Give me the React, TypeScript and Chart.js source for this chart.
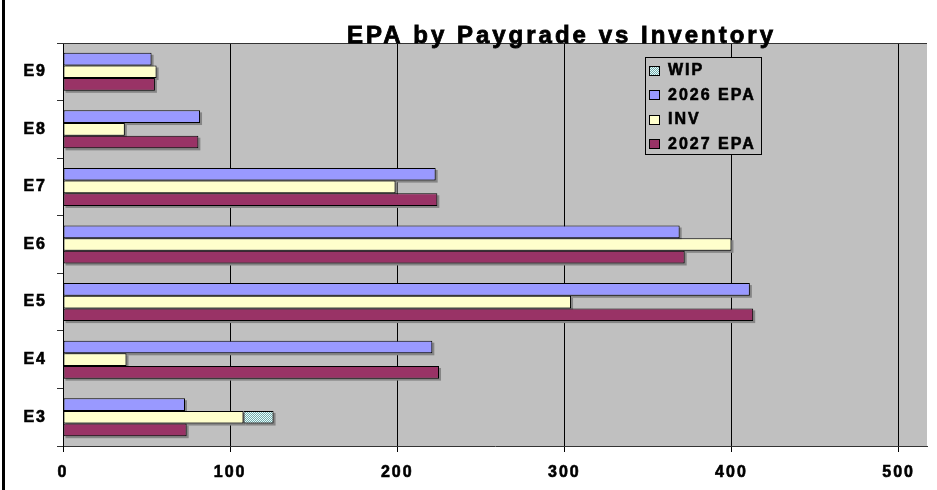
import React, { useEffect, useRef } from "react";
import { Chart, registerables } from "chart.js";

Chart.register(...registerables);

// ---- data (top to bottom as shown) ----
const categories = ["E9", "E8", "E7", "E6", "E5", "E4", "E3"];
const epa2026 = [53, 82, 223, 369, 411, 221, 73];
const inv = [56, 37, 199, 400, 304, 38, 108];
const wip = [0, 0, 0, 0, 0, 0, 18];
const epa2027 = [55, 81, 224, 372, 413, 225, 74];
const xTickValues = [0, 100, 200, 300, 400, 500];
const xMax = 517;
const legendOrder = ["WIP", "2026 EPA", "INV", "2027 EPA"];
const chartTitle = "EPA by Paygrade vs Inventory";

const FONT = '"Liberation Sans", Arial, Helvetica, sans-serif';

function makeWipPattern(): CanvasPattern | string {
  const c = document.createElement("canvas");
  c.width = 2;
  c.height = 2;
  const g = c.getContext("2d");
  if (!g) return "#A8D8D8";
  g.fillStyle = "#E6FFFF";
  g.fillRect(0, 0, 2, 2);
  g.fillStyle = "#78AAAA";
  g.fillRect(1, 0, 1, 1);
  g.fillRect(0, 1, 1, 1);
  const p = g.createPattern(c, "repeat");
  return p || "#A8D8D8";
}

const decorPlugin = {
  id: "decor",
  beforeDraw(chart: any) {
    const { ctx, chartArea: a } = chart;
    ctx.save();
    ctx.fillStyle = "#FFFFFF";
    ctx.fillRect(0, 0, chart.width, chart.height);
    ctx.fillStyle = "#C0C0C0";
    ctx.fillRect(a.left, a.top, a.right - a.left, a.bottom - a.top);
    ctx.restore();
    ctx.letterSpacing = "2px";
  },
  beforeDatasetsDraw(chart: any) {
    // drop shadows behind bars
    const { ctx, chartArea: a } = chart;
    ctx.save();
    ctx.beginPath();
    ctx.rect(a.left, a.top, a.right - a.left, a.bottom - a.top);
    ctx.clip();
    ctx.fillStyle = "#858585";
    chart.data.datasets.forEach((_d: any, i: number) => {
      const meta = chart.getDatasetMeta(i);
      meta.data.forEach((el: any) => {
        const p = el.getProps(["x", "y", "base", "height"], true);
        if (p.x == null || isNaN(p.x) || Math.abs(p.x - p.base) < 0.5) return;
        const l = Math.min(p.base, p.x);
        const r = Math.max(p.base, p.x);
        ctx.fillRect(l + 2, p.y - p.height / 2 + 2, r - l, p.height);
      });
    });
    ctx.restore();
  },
  afterDraw(chart: any) {
    const { ctx, chartArea: a } = chart;
    ctx.save();
    // outer frame (left edge)
    ctx.fillStyle = "#000";
    ctx.fillRect(2, 0, 3, chart.height);
    // plot area top border
    ctx.strokeStyle = "#333";
    ctx.lineWidth = 1;
    ctx.beginPath();
    ctx.moveTo(a.left, Math.round(a.top) + 0.5);
    ctx.lineTo(a.right, Math.round(a.top) + 0.5);
    ctx.stroke();

    // title
    ctx.letterSpacing = "3px";
    ctx.fillStyle = "#000";
    ctx.strokeStyle = "#000";
    ctx.lineWidth = 0.8;
    ctx.font = `bold 24px ${FONT}`;
    ctx.textAlign = "left";
    ctx.textBaseline = "alphabetic";
    ctx.strokeText(chartTitle, 347, 43);
    ctx.fillText(chartTitle, 347, 43);

    // legend
    const lx = 645.5, ly = 57.5, lw = 116, lh = 97;
    ctx.fillStyle = "#C0C0C0";
    ctx.fillRect(lx, ly, lw, lh);
    ctx.strokeStyle = "#000";
    ctx.lineWidth = 1;
    ctx.strokeRect(lx, ly, lw, lh);
    ctx.letterSpacing = "2px";
    ctx.font = `bold 16px ${FONT}`;
    ctx.textBaseline = "middle";
    const ds = chart.data.datasets;
    legendOrder.forEach((name, i) => {
      const d = ds.find((x: any) => x.label === name);
      if (!d) return;
      const cy = 70 + i * 24.5;
      ctx.fillStyle = d.backgroundColor;
      ctx.fillRect(649.5, Math.round(cy - 4.5) + 0.5, 10, 9);
      ctx.strokeStyle = "#000";
      ctx.lineWidth = 1;
      ctx.strokeRect(649.5, Math.round(cy - 4.5) + 0.5, 10, 9);
      ctx.fillStyle = "#000";
      ctx.lineWidth = 0.6;
      ctx.strokeText(name, 668, cy + 1);
      ctx.fillText(name, 668, cy + 1);
    });
    ctx.restore();
  },
};

export default function App() {
  const ref = useRef<HTMLCanvasElement | null>(null);

  useEffect(() => {
    if (!ref.current) return;
    const pattern = makeWipPattern();
    const common = {
      borderColor: "#000000",
      borderWidth: 1,
      borderSkipped: false,
      categoryPercentage: 0.66,
      barPercentage: 1.0,
    };
    const tickFont = { family: FONT, size: 16, weight: "bold" };
    const chart = new Chart(ref.current, {
      type: "bar",
      data: {
        labels: categories,
        datasets: [
          { ...common, label: "2026 EPA", data: epa2026, backgroundColor: "#9999FF", stack: "a" },
          { ...common, label: "INV", data: inv, backgroundColor: "#FFFFCC", stack: "b" },
          {
            ...common,
            label: "WIP",
            data: wip.map((v) => (v ? v : null)),
            backgroundColor: pattern as any,
            stack: "b",
          },
          { ...common, label: "2027 EPA", data: epa2027, backgroundColor: "#993366", stack: "c" },
        ] as any,
      },
      options: {
        indexAxis: "y",
        responsive: false,
        animation: false,
        devicePixelRatio: 1,
        layout: { padding: { left: 0, top: 43, right: 10, bottom: 0 } },
        plugins: {
          legend: { display: false },
          title: { display: false },
          tooltip: { enabled: false },
        },
        scales: {
          x: {
            type: "linear",
            min: 0,
            max: xMax,
            afterBuildTicks: (scale: any) => {
              scale.ticks = xTickValues.map((v) => ({ value: v }));
            },
            afterFit: (scale: any) => {
              scale.height = 44;
            },
            grid: { color: "#000000", lineWidth: 1, tickLength: 6, drawTicks: true },
            border: { color: "#333333", width: 1 },
            ticks: {
              color: "#000000",
              padding: 11,
              maxRotation: 0,
              textStrokeColor: "#000000",
              textStrokeWidth: 0.6,
              font: tickFont,
            },
          },
          y: {
            type: "category",
            afterFit: (scale: any) => {
              scale.width = 63;
            },
            grid: {
              drawOnChartArea: false,
              drawTicks: true,
              tickLength: 6,
              color: "#333333",
              offset: true,
            },
            border: { color: "#000000", width: 1 },
            ticks: {
              color: "#000000",
              padding: 10,
              textStrokeColor: "#000000",
              textStrokeWidth: 0.6,
              font: tickFont,
            },
          },
        },
      } as any,
      plugins: [decorPlugin],
    });
    return () => chart.destroy();
  }, []);

  return (
    <div style={{ position: "fixed", left: 0, top: 0, width: 937, height: 490, background: "#fff" }}>
      <canvas ref={ref} width={937} height={490} style={{ display: "block" }} />
    </div>
  );
}
